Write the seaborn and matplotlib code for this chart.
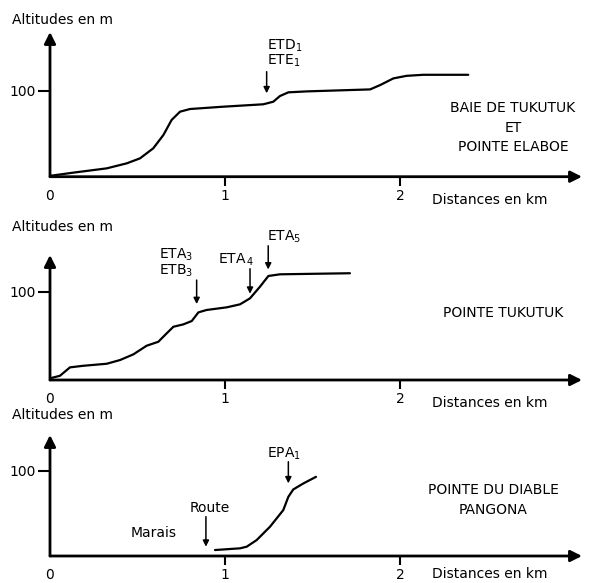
import matplotlib
matplotlib.use("Agg")
import matplotlib.pyplot as plt
import seaborn as sns
import pandas as pd

# ---------------- data ----------------
top_km = [0.0, 0.133, 0.324, 0.438, 0.514, 0.59, 0.648, 0.695, 0.743, 0.8, 0.99,
          1.219, 1.276, 1.314, 1.362, 1.467, 1.829, 1.886, 1.962, 2.038, 2.133, 2.39]
top_alt = [1, 4.7, 9.7, 15.5, 21.3, 33, 48.5, 66, 75.6, 78.7, 81.4,
           84.2, 87.2, 93.8, 98.1, 99.2, 101.5, 106.5, 114.3, 117.3, 118.5, 118.5]

mid_km = [0, 0.057, 0.114, 0.19, 0.324, 0.4, 0.476, 0.552, 0.619, 0.657, 0.705,
          0.762, 0.81, 0.848, 0.895, 1.01, 1.086, 1.143, 1.2, 1.248, 1.314, 1.714]
mid_alt = [1.9, 4.8, 14.3, 16.1, 18.4, 22.6, 29, 38.8, 43.3, 50.9, 60.3,
           63, 66.8, 76.6, 79.3, 82.3, 85.7, 92.5, 105.7, 117.8, 119.7, 120.9]

bot_km = [0.943, 1.086, 1.124, 1.181, 1.257, 1.333, 1.362, 1.39, 1.448, 1.52]
bot_alt = [7.0, 9.0, 10.9, 18.7, 34.3, 53.8, 69.4, 78, 85.1, 92.8]

x_ticks = [0, 1, 2]
x_tick_labels = ["0", "1", "2"]
y_ticks = [100]
y_tick_labels = ["100"]

# arrow markers: label lines, arrow x (km), arrow start / end altitude (m)
top_labels = [["ETD$_1$", "ETE$_1$"]]
top_arrow_km = [1.238]
top_arrow_from = [122.1]
top_arrow_to = [97.0]

mid_labels = [["ETA$_3$", "ETB$_3$"], ["ETA$_{\\,4}$"], ["ETA$_5$"]]
mid_arrow_km = [0.838, 1.143, 1.247]
mid_arrow_from = [113.2, 126.0, 152.0]
mid_arrow_to = [86.0, 97.7, 125.2]

bot_labels = [["EPA$_1$"], ["Route"]]
bot_arrow_km = [1.362, 0.891]
bot_arrow_from = [110.5, 46.1]
bot_arrow_to = [85.2, 10.9]

top_title = ["BAIE DE TUKUTUK", "ET", "POINTE ELABOE"]
mid_title = ["POINTE TUKUTUK"]
bot_title = ["POINTE DU DIABLE", "PANGONA"]

# ---------------- layout (pixel offsets of label text vs arrow start) ----------------
top_text_off = [(0, [22, 6.7])]
mid_text_off = [(-37.7, [21.5, 5.5]), (-32, [4.7]), (-1.3, [5])]
bot_text_off = [(-21, [3.7]), (-16, [4.7])]

# ---------------- figure ----------------
sns.set_style("white")
plt.rcParams["font.family"] = ["DejaVu Sans"]
plt.rcParams["text.color"] = "black"
plt.rcParams["xtick.color"] = "black"
plt.rcParams["ytick.color"] = "black"
W, H = 591, 583
fig = plt.figure(figsize=(W / 100, H / 100), dpi=100)
FS = 10
PT = 0.72  # points per pixel at 100 dpi


def fx(px):
    return px / W


def fy(py):
    return 1 - py / H


PX_PER_KM = 175.0
X0 = 50
XMAX = (582 - X0) / PX_PER_KM


def make_axes(top_px, bot_px, px_per_m):
    ax = fig.add_axes([fx(X0), fy(bot_px), (582 - X0) / W, (bot_px - top_px) / H])
    ax.set_xlim(0, XMAX)
    ax.set_ylim(0, (bot_px - top_px) / px_per_m)
    for s in ax.spines.values():
        s.set_visible(False)
    ax.patch.set_alpha(0)
    ax.annotate("", xy=(1, 0), xytext=(0, 0), xycoords="axes fraction",
                arrowprops=dict(arrowstyle="-|>", lw=2.0, color="k",
                                mutation_scale=17, shrinkA=0, shrinkB=0))
    ax.annotate("", xy=(0, 1), xytext=(0, 0), xycoords="axes fraction",
                arrowprops=dict(arrowstyle="-|>", lw=2.0, color="k",
                                mutation_scale=17, shrinkA=0, shrinkB=0))
    ax.set_xticks(x_ticks)
    ax.set_xticklabels(x_tick_labels, fontsize=FS)
    ax.set_yticks(y_ticks)
    ax.set_yticklabels(y_tick_labels, fontsize=FS)
    ax.tick_params(axis="x", direction="out", length=6.5, width=1.5, pad=2,
                   bottom=True)
    ax.tick_params(axis="y", direction="out", length=8.6, width=1.5, pad=1.5,
                   left=True)
    ax.xaxis.get_major_ticks()[0].tick1line.set_visible(False)
    return ax


def draw_marks(ax, labels, xs, a0s, a1s, offs):
    for lines, xk, a0, a1, (dx, dys) in zip(labels, xs, a0s, a1s, offs):
        ax.annotate("", xy=(xk, a1), xytext=(xk, a0), xycoords="data",
                    arrowprops=dict(arrowstyle="-|>", lw=1.1, color="k",
                                    mutation_scale=9, shrinkA=0, shrinkB=0),
                    annotation_clip=False)
        for t, dy in zip(lines, dys):
            ax.annotate(t, xy=(xk, a0), xycoords="data",
                        xytext=(dx * PT, dy * PT), textcoords="offset points",
                        ha="left", va="baseline", fontsize=FS,
                        annotation_clip=False)


def curve(ax, km, alt):
    df = pd.DataFrame({"km": km, "alt": alt})
    sns.lineplot(data=df, x="km", y="alt", ax=ax, color="k", lw=1.6,
                 sort=False, estimator=None)
    ax.set_xlabel("")
    ax.set_ylabel("")


ax1 = make_axes(32, 176.7, 0.86)
curve(ax1, top_km, top_alt)
draw_marks(ax1, top_labels, top_arrow_km, top_arrow_from, top_arrow_to, top_text_off)

ax2 = make_axes(255, 380, 0.883)
curve(ax2, mid_km, mid_alt)
draw_marks(ax2, mid_labels, mid_arrow_km, mid_arrow_from, mid_arrow_to, mid_text_off)

ax3 = make_axes(435, 556, 0.853)
curve(ax3, bot_km, bot_alt)
draw_marks(ax3, bot_labels, bot_arrow_km, bot_arrow_from, bot_arrow_to, bot_text_off)
ax3.text(0.594, 27, "Marais", ha="center", va="center", fontsize=FS)

for y in (20, 227, 415):
    fig.text(fx(12), fy(y), "Altitudes en m", ha="left", va="center", fontsize=FS)

for y in (200, 403, 574):
    fig.text(fx(432), fy(y), "Distances en km", ha="left", va="center", fontsize=FS)

for i, t in enumerate(top_title):
    fig.text(fx(513), fy(108 + 19.5 * i), t, ha="center", va="center", fontsize=FS)
for i, t in enumerate(mid_title):
    fig.text(fx(503), fy(313 + 20 * i), t, ha="center", va="center", fontsize=FS)
for i, t in enumerate(bot_title):
    fig.text(fx(493), fy(490 + 20 * i), t, ha="center", va="center", fontsize=FS)

fig.savefig("out.png", dpi=100)
